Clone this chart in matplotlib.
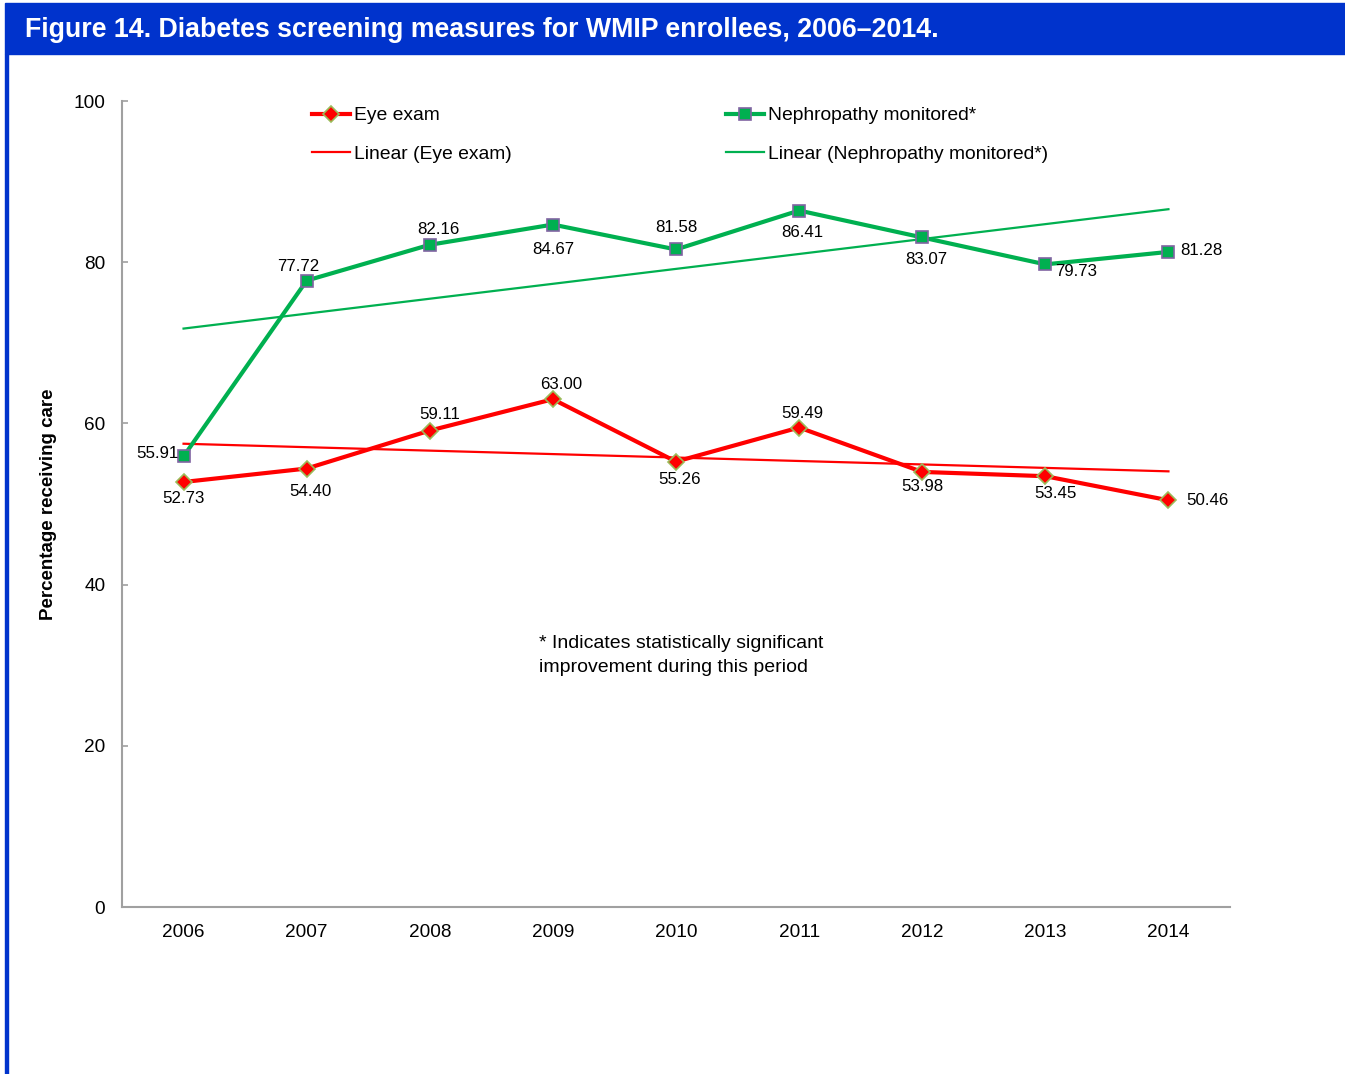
#!/usr/bin/env python3
"""Figure 14: diabetes screening measures for WMIP enrollees, 2006-2014."""

import matplotlib

matplotlib.use("Agg")
import matplotlib.pyplot as plt
import numpy as np
from matplotlib.lines import Line2D
from matplotlib.patches import Rectangle

plt.rcParams["font.family"] = ["Liberation Sans", "DejaVu Sans"]

years = ["2006", "2007", "2008", "2009", "2010", "2011", "2012", "2013", "2014"]
eye_exam = [52.73, 54.40, 59.11, 63.00, 55.26, 59.49, 53.98, 53.45, 50.46]
nephropathy = [55.91, 77.72, 82.16, 84.67, 81.58, 86.41, 83.07, 79.73, 81.28]
y_ticks = [0, 20, 40, 60, 80, 100]

# label offsets in pixels (dx, dy, ha, va)
eye_offsets = [
    (0, -9, "center", "top"), (4, -15, "center", "top"), (10, 9, "center", "bottom"),
    (8, 7, "center", "bottom"), (4, -10, "center", "top"), (3, 7, "center", "bottom"),
    (0, -7, "center", "top"), (10, -10, "center", "top"), (18, 0, "left", "center"),
]
neph_offsets = [
    (-5, 3, "right", "center"), (-8, 7, "center", "bottom"), (9, 8, "center", "bottom"),
    (0, -17, "center", "top"), (0, 14, "center", "bottom"), (3, -14, "center", "top"),
    (4, -15, "center", "top"), (10, -7, "left", "center"), (12, 1, "left", "center"),
]

RED = "#ff0000"
GREEN = "#00b050"
BLUE = "#0033cc"

W, H = 1345, 1074
fig = plt.figure(figsize=(W / 100, H / 100), dpi=100)
ax = fig.add_axes([122 / W, 1 - 907 / H, (1230 - 122) / W, (907 - 101) / H])

# title band and frame line
fig.patches.append(Rectangle((5 / W, 1 - 54 / H), 1 - 5 / W, 51 / H,
                             transform=fig.transFigure, color=BLUE, zorder=0))
fig.patches.append(Rectangle((5 / W, 0), 2.5 / W, 1 - 54 / H,
                             transform=fig.transFigure, color=BLUE, zorder=0))
fig.text(25 / W, 1 - 30 / H,
         "Figure 14. Diabetes screening measures for WMIP enrollees, 2006\u20132014.",
         color="white", fontsize=19.3, fontweight="bold", va="center", ha="left")

x = np.arange(len(years))

eye_fit = np.polyfit(x, eye_exam, 1)
neph_fit = np.polyfit(x, nephropathy, 1)
ax.plot(x, np.polyval(eye_fit, x), color=RED, lw=1.6, zorder=2)
ax.plot(x, np.polyval(neph_fit, x), color=GREEN, lw=1.6, zorder=2)

ax.plot(x, eye_exam, color=RED, lw=3.0, marker="D", ms=8, mfc=RED, mec="#9bbb59", mew=1.2, zorder=3)
ax.plot(x, nephropathy, color=GREEN, lw=3.0, marker="s", ms=8, mfc=GREEN, mec="#8064a2", mew=1.2, zorder=3)

for xi, val, (dx, dy, ha, va) in zip(x, eye_exam, eye_offsets):
    ax.annotate(f"{val:.2f}", (xi, val), xytext=(dx, dy), textcoords="offset pixels",
                ha=ha, va=va, fontsize=12.2, zorder=4)
for xi, val, (dx, dy, ha, va) in zip(x, nephropathy, neph_offsets):
    ax.annotate(f"{val:.2f}", (xi, val), xytext=(dx, dy), textcoords="offset pixels",
                ha=ha, va=va, fontsize=12.2, zorder=4)

ax.set_xlim(-0.5, len(years) - 0.5)
ax.set_ylim(0, 100)
ax.set_xticks(x)
ax.set_xticklabels(years)
ax.set_yticks(y_ticks)
ax.tick_params(axis="x", length=0, pad=12, labelsize=13.7)
ax.tick_params(axis="y", direction="in", length=4, width=1.2, color="#a0a0a0",
               pad=12, labelsize=13.7)
for side in ("top", "right"):
    ax.spines[side].set_visible(False)
for side in ("left", "bottom"):
    ax.spines[side].set_color("#a0a0a0")
    ax.spines[side].set_linewidth(1.5)

ax.set_ylabel("Percentage receiving care", fontsize=13.5, fontweight="bold")
ax.yaxis.set_label_coords(-65 / 1108, 0.5)

fig.text(539 / W, 1 - 644 / H, "* Indicates statistically significant",
         fontsize=14.0, va="center", ha="left")
fig.text(539 / W, 1 - 667 / H, "improvement during this period",
         fontsize=14.0, va="center", ha="left")

common = dict(frameon=False, loc="upper left", fontsize=13.85, handlelength=2.0,
              handletextpad=0.2, labelspacing=1.1, borderpad=0, borderaxespad=0,
              bbox_transform=fig.transFigure)
leg1 = ax.legend(
    handles=[
        Line2D([], [], color=RED, lw=3.0, marker="D", ms=8, mfc=RED, mec="#9bbb59", mew=1.2),
        Line2D([], [], color=RED, lw=1.6),
    ],
    labels=["Eye exam", "Linear (Eye exam)"],
    bbox_to_anchor=(312 / W, 1 - 107 / H), **common)
ax.add_artist(leg1)
ax.legend(
    handles=[
        Line2D([], [], color=GREEN, lw=3.0, marker="s", ms=8, mfc=GREEN, mec="#8064a2", mew=1.2),
        Line2D([], [], color=GREEN, lw=1.6),
    ],
    labels=["Nephropathy monitored*", "Linear (Nephropathy monitored*)"],
    bbox_to_anchor=(726 / W, 1 - 107 / H), **common)

fig.savefig("out.png", dpi=100)
plt.close(fig)
